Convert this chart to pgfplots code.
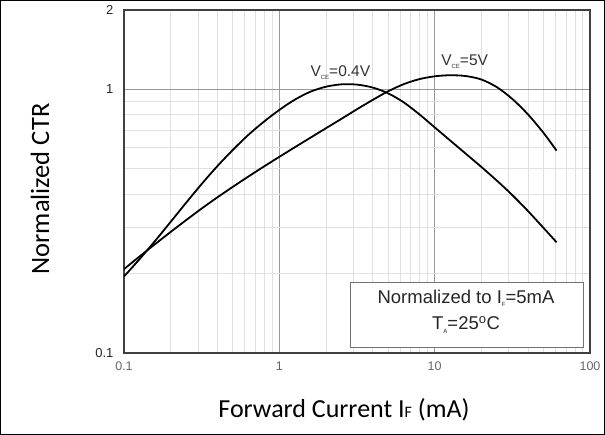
\documentclass[border=0pt]{standalone}
\usepackage{pgfplots}
\pgfplotsset{compat=1.18}
\usepackage{fontspec}
\setmainfont{Liberation Sans}
\newfontfamily\calibri{Carlito}
\newcommand{\sub}[1]{\raisebox{-0.35ex}{\fontsize{6}{6}\selectfont #1}}
\begin{document}
\begin{tikzpicture}
\useasboundingbox (0pt,0pt) rectangle (605pt,435pt);
\draw[line width=1.4pt, black] (0.7pt,0.7pt) rectangle (604.3pt,434.3pt);
\begin{axis}[
  at={(124pt,82pt)}, anchor=south west,
  scale only axis, width=466pt, height=343pt,
  xmode=log, ymode=log,
  xmin=0.1, xmax=100, ymin=0.1, ymax=2,
  xtick={0.1,1,10,100}, xticklabels={0.1,1,10,100},
  ytick={0.1,1,2}, yticklabels={0.1,1,2},
  minor xtick={0.2,0.3,0.4,0.5,0.6,0.7,0.8,0.9,2,3,4,5,6,7,8,9,20,30,40,50,60,70,80,90},
  minor ytick={0.2,0.3,0.4,0.5,0.6,0.7,0.8,0.9},
  grid=both,
  major grid style={draw=black!40, line width=0.8pt},
  minor grid style={draw=black!12, line width=0.8pt},
  major tick length=0pt, minor tick length=0pt,
  axis line style={draw=black!75, line width=1.2pt},
  /pgf/number format/assume math mode=true,
  xticklabel style={font=\fontsize{12.5}{12.5}\selectfont, text=black!60, yshift=-5pt},
  yticklabel style={font=\fontsize{13}{13}\selectfont, text=black!85, xshift=-7pt},
]
% V_CE = 0.4 V
\addplot[black, line width=1.8pt, smooth, tension=0.5] coordinates {
(0.1,0.1950) (0.1259,0.2270) (0.1585,0.2661) (0.1995,0.3141) (0.2512,0.3715)
(0.3162,0.4375) (0.3981,0.5105) (0.5012,0.5888) (0.6310,0.6714) (0.7943,0.7534)
(1,0.8356) (1.259,0.9141) (1.585,0.9795) (1.995,1.0233) (2.512,1.0447)
(3.162,1.0423) (3.981,1.0163) (5.012,0.9661) (6.310,0.8933) (7.943,0.8054)
(10,0.7178) (12.59,0.6397) (15.85,0.5702) (19.95,0.5082) (25.12,0.4508)
(31.62,0.3972) (39.81,0.3459) (50.12,0.2985) (60.95,0.2630)};
% V_CE = 5 V
\addplot[black, line width=1.8pt, smooth, tension=0.5] coordinates {
(0.1,0.2080) (0.1259,0.2323) (0.1585,0.2588) (0.1995,0.2877) (0.2512,0.3192)
(0.3162,0.3532) (0.3981,0.3890) (0.5012,0.4266) (0.6310,0.4667) (0.7943,0.5093)
(1,0.5546) (1.259,0.6033) (1.585,0.6554) (1.995,0.7120) (2.512,0.7733)
(3.162,0.8405) (3.981,0.9110) (5.012,0.9829) (6.310,1.0459) (7.943,1.0927)
(10,1.1206) (12.59,1.1311) (15.85,1.1233) (19.95,1.0902) (25.12,1.0198)
(31.62,0.9194) (39.81,0.8043) (50.12,0.6847) (60.95,0.5855)};
\node[font=\fontsize{15.5}{15.5}\selectfont, text=black!80] at (axis cs:2.47,1.16) {V\sub{CE}=0.4V};
\node[font=\fontsize{15.5}{15.5}\selectfont, text=black!80] at (axis cs:15.6,1.27) {V\sub{CE}=5V};
\draw[black!55, line width=0.9pt, fill=white] (rel axis cs:0.485,0.0175) rectangle (rel axis cs:0.985,0.207);
\node[font=\fontsize{18.5}{18.5}\selectfont, text=black!85] at (rel axis cs:0.734,0.160) {Normalized to I\sub{F}=5mA};
\node[font=\fontsize{18.5}{18.5}\selectfont, text=black!85] at (rel axis cs:0.734,0.082) {T\sub{A}=25\textsuperscript{o}C};
\end{axis}
\node[rotate=90, font=\calibri\fontsize{26.5}{26.5}\selectfont] at (40pt,246pt) {Normalized CTR};
\node[font=\calibri\fontsize{26}{26}\selectfont] at (344pt,25pt) {Forward Current I{\fontsize{16}{16}\selectfont F} (mA)};
\end{tikzpicture}
\end{document}
